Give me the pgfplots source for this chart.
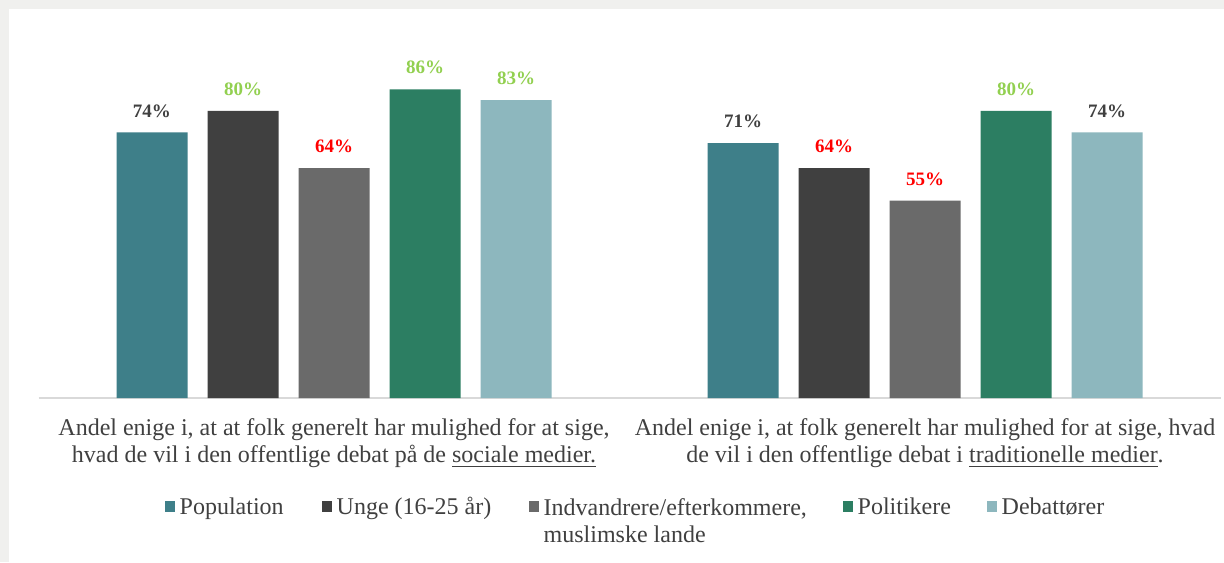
\documentclass[border=0pt]{standalone}
\usepackage{fontspec}
\setmainfont{Liberation Serif}
\usepackage{pgfplots}
\usepackage{pgfplotstable}
\pgfplotsset{compat=1.18}

\definecolor{popc}{HTML}{3E7F89}
\definecolor{ungec}{HTML}{404040}
\definecolor{indvc}{HTML}{6A6A6A}
\definecolor{politc}{HTML}{2C7E62}
\definecolor{debatc}{HTML}{8DB7BE}
\definecolor{labdark}{HTML}{404040}
\definecolor{labgreen}{HTML}{92D050}
\definecolor{labred}{HTML}{FF0000}
\definecolor{txtgray}{HTML}{404040}
\definecolor{bggray}{HTML}{F0F0EE}
\definecolor{axgray}{HTML}{D9D9D9}

% x = 0: sociale medier, x = 1: traditionelle medier
\pgfplotstableread{
x y c
0 74 labdark
1 71 labdark
}\popdata
\pgfplotstableread{
x y c
0 80 labgreen
1 64 labred
}\ungedata
\pgfplotstableread{
x y c
0 64 labred
1 55 labred
}\indvdata
\pgfplotstableread{
x y c
0 86 labgreen
1 80 labgreen
}\politdata
\pgfplotstableread{
x y c
0 83 labgreen
1 74 labdark
}\debatdata

\begin{document}
\begin{tikzpicture}[x=1pt,y=1pt]
\fill[bggray] (0,0) rectangle (612,281);
\fill[white] (4.5,0) rectangle (612,276.5);
\useasboundingbox (0,0) rectangle (612,281);
\begin{axis}[
  at={(19.25pt,82pt)}, anchor=south west,
  scale only axis,
  width=591pt, height=179.5pt,
  xmin=-0.5, xmax=1.5, ymin=0, ymax=100,
  clip=false,
  ybar=10pt, bar width=35.5pt,
  axis y line=none,
  axis x line=bottom,
  x axis line style={draw=axgray, line width=0.8pt, -},
  major tick length=0pt,
  xtick={0,1},
  xticklabels={{Andel enige i, at at folk generelt har mulighed for at sige,\\hvad de vil i den offentlige debat på de \underline{sociale medier.}},
               {Andel enige i, at folk generelt har mulighed for at sige, hvad\\de vil i den offentlige debat i \underline{traditionelle medier}.}},
  xticklabel style={align=center, text=txtgray, font=\fontsize{12}{13.5}\selectfont, yshift=-7pt},
  /pgf/number format/assume math mode=true,
  point meta=explicit symbolic,
  visualization depends on={y \as \rawy},
  nodes near coords={\textcolor{\pgfplotspointmeta}{\pgfmathprintnumber{\rawy}\%}},
  every node near coord/.append style={font=\fontsize{9.5}{11}\selectfont\bfseries, yshift=4pt},
  legend columns=-1,
  legend style={draw=none, fill=none, at={(0.5,0)}, anchor=north, xshift=2.5pt, yshift=-49pt,
    font=\fontsize{12}{13.5}\selectfont, text=txtgray, inner sep=0pt,
    nodes={inner sep=0pt}, column sep=0pt},
  legend cell align=left,
  legend image code/.code={\fill[#1,draw=none] (0pt,-2.5pt) rectangle (5pt,3pt); \path (7.5pt,0pt);},
]
\addplot[fill=popc, draw=none] table[x=x,y=y,meta=c] {\popdata};
\addlegendentry{\makebox[71pt][l]{Population}}
\addplot[fill=ungec, draw=none] table[x=x,y=y,meta=c] {\ungedata};
\addlegendentry{\makebox[96pt][l]{Unge (16-25 år)}}
\addplot[fill=indvc, draw=none] table[x=x,y=y,meta=c] {\indvdata};
\addlegendentry{\makebox[149.5pt][l]{\begin{tabular}[t]{@{}l@{}}Indvandrere/efterkommere,\\muslimske lande\end{tabular}}}
\addplot[fill=politc, draw=none] table[x=x,y=y,meta=c] {\politdata};
\addlegendentry{\makebox[64.5pt][l]{Politikere}}
\addplot[fill=debatc, draw=none] table[x=x,y=y,meta=c] {\debatdata};
\addlegendentry{Debattører}
\end{axis}
\end{tikzpicture}
\end{document}
